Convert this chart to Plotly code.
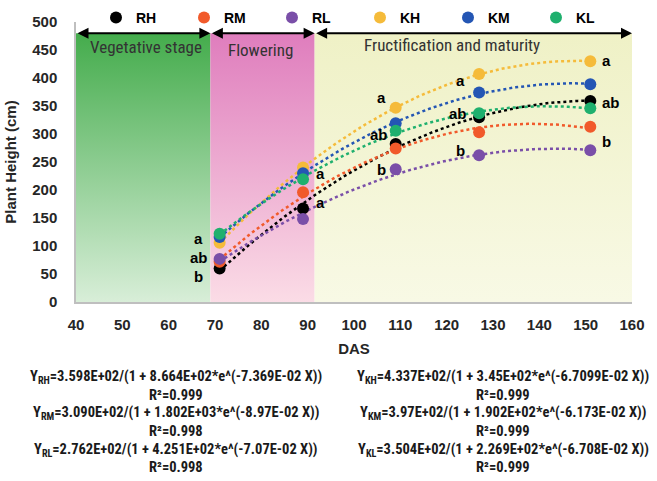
import numpy as np
import plotly.graph_objects as go

# ---------------- data ----------------
das = [71, 89, 109, 127, 151]
series_names = ["RH", "RM", "RL", "KH", "KM", "KL"]
RH = [60, 167, 282, 330, 359]
RM = [72, 196, 274, 303, 313]
RL = [77, 148, 237, 262, 271]
KH = [106, 240, 347, 407, 430]
KM = [116, 230, 319, 374, 389]
KL = [122, 219, 306, 337, 346]

stage_names = ["Vegetative stage", "Flowering", "Fructification and maturity"]
stage_bounds = [40, 69, 91.5, 160]

equations = [
    ("Y<sub>RH</sub>=3.598E+02/(1 + 8.664E+02*e^(-7.369E-02 X))", "R²=0.999"),
    ("Y<sub>RM</sub>=3.090E+02/(1 + 1.802E+03*e^(-8.97E-02 X))", "R²=0.998"),
    ("Y<sub>RL</sub>=2.762E+02/(1 + 4.251E+02*e^(-7.07E-02 X))", "R²=0.998"),
    ("Y<sub>KH</sub>=4.337E+02/(1 + 3.45E+02*e^(-6.7099E-02 X))", "R²=0.999"),
    ("Y<sub>KM</sub>=3.97E+02/(1 + 1.902E+02*e^(-6.173E-02 X))", "R²=0.999"),
    ("Y<sub>KL</sub>=3.504E+02/(1 + 2.269E+02*e^(-6.708E-02 X))", "R²=0.999"),
]

# significance letters: (DAS, height, letter)
letters = [
    (66.5, 114, "a"), (66.5, 79, "ab"), (66.5, 45, "b"),
    (92.8, 230, "a"), (92.8, 177, "a"),
    (106, 366, "a"), (105.5, 300, "ab"), (106, 236, "b"),
    (123, 395, "a"), (122.5, 337, "ab"), (123, 270, "b"),
    (154.5, 432, "a"), (155.5, 357, "ab"), (154.5, 286, "b"),
]

# ---------------- styles ----------------
colors = {"RH": "#000000", "RM": "#f15a2b", "RL": "#7a4fa8",
          "KH": "#f5bb3a", "KM": "#2456b4", "KL": "#1fb06e"}
stage_grad = [
    [[0, "#d8eed8"], [1, "#44ac4c"]],
    [[0, "#fbdce6"], [1, "#df7dbd"]],
    [[0, "#f8f9e5"], [1, "#eff1c6"]],
]
stage_top = 480
FONT_N = "Liberation Sans Narrow, Roboto Condensed, Arial Narrow, sans-serif"
FONT_B = "Liberation Sans, Arial, sans-serif"

values = {"RH": RH, "RM": RM, "RL": RL, "KH": KH, "KM": KM, "KL": KL}

fig = go.Figure()

# stage background bands with vertical gradient
for i, name in enumerate(stage_names):
    x0, x1 = stage_bounds[i], stage_bounds[i + 1]
    fig.add_trace(go.Scatter(
        x=[x0, x1, x1, x0, x0], y=[0, 0, stage_top, stage_top, 0],
        mode="lines", line=dict(width=0), fill="toself",
        fillgradient=dict(type="vertical", colorscale=stage_grad[i], start=0, stop=stage_top),
        showlegend=False, hoverinfo="skip"))

# trendlines (polynomial fits of each series)
xs = np.linspace(das[0], das[-1], 120)
for n in series_names:
    coef = np.polyfit(das, values[n], 2)
    fig.add_trace(go.Scatter(
        x=xs, y=np.polyval(coef, xs), mode="lines",
        line=dict(color=colors[n], width=2.5, dash="dot"),
        showlegend=False, hoverinfo="skip"))

# points
for n in series_names:
    fig.add_trace(go.Scatter(
        x=das, y=values[n], mode="markers", name="<b>" + n + "</b>",
        marker=dict(color=colors[n], size=12)))

annotations = []
# stage arrows
for i in range(3):
    x0, x1 = stage_bounds[i], stage_bounds[i + 1]
    annotations.append(dict(
        x=x1, y=stage_top, ax=x0, ay=stage_top, xref="x", yref="y",
        axref="x", ayref="y", text="", showarrow=True,
        arrowhead=2, arrowsize=1.1, arrowwidth=2, arrowcolor="#000000",
        arrowside="end+start"))
# stage labels
stage_label_pos = [(55, 455), (79.8, 450), (121.2, 459)]
for (lx, ly), name in zip(stage_label_pos, stage_names):
    annotations.append(dict(x=lx, y=ly, xref="x", yref="y", text=name,
                            showarrow=False,
                            font=dict(family=FONT_N, size=17, color="#333333")))
# letters
for lx, ly, t in letters:
    annotations.append(dict(x=lx, y=ly, xref="x", yref="y", text="<b>" + t + "</b>",
                            showarrow=False,
                            font=dict(family=FONT_B, size=15, color="#000000")))
# equations below the chart
line_y = [377, 395, 413, 431, 450, 467]
col_x = [176, 503]
for k, (eq, r2) in enumerate(equations):
    cx = col_x[k // 3]
    r = k % 3
    for j, txt in enumerate((eq, r2)):
        py = line_y[2 * r + j]
        annotations.append(dict(
            x=(cx - 76) / 556, y=(302 - py) / 280, xref="paper", yref="paper",
            text="<b>" + txt + "</b>", showarrow=False,
            xanchor="center", yanchor="middle",
            font=dict(family=FONT_N, size=14.5, color="#1a1a1a")))

fig.update_layout(
    width=657, height=481,
    margin=dict(l=76, r=25, t=22, b=179, autoexpand=False),
    paper_bgcolor="white", plot_bgcolor="white",
    font=dict(family=FONT_N, color="#262626"),
    showlegend=True,
    legend=dict(orientation="h", x=(96 - 76) / 556, xanchor="left",
                y=(302 - 18) / 280, yanchor="middle",
                entrywidth=43, entrywidthmode="pixels",
                bgcolor="rgba(0,0,0,0)", itemwidth=30,
                font=dict(family=FONT_B, size=14, color="#000000"),
                tracegroupgap=0),
    annotations=annotations,
    xaxis=dict(range=[40, 160], dtick=10, tick0=40, showgrid=False, zeroline=False,
               showline=True, linecolor="#bfbfbf", linewidth=1.5, ticks="",
               ticklabelstandoff=8,
               tickfont=dict(family=FONT_B, size=15, color="#262626"),
               tickprefix="<b>", ticksuffix="</b>",
               title=dict(text="<b>DAS</b>", standoff=12,
                          font=dict(family=FONT_B, size=15, color="#262626"))),
    yaxis=dict(range=[0, 500], dtick=50, showgrid=False, zeroline=False,
               showline=True, linecolor="#bfbfbf", linewidth=1.5, ticks="",
               ticklabelstandoff=14,
               tickfont=dict(family=FONT_B, size=15, color="#262626"),
               tickprefix="<b>", ticksuffix="</b>",
               title=dict(text="<b>Plant Height (cm)</b>", standoff=12,
                          font=dict(family=FONT_B, size=15, color="#262626"))),
)

fig.write_html("out.html")
